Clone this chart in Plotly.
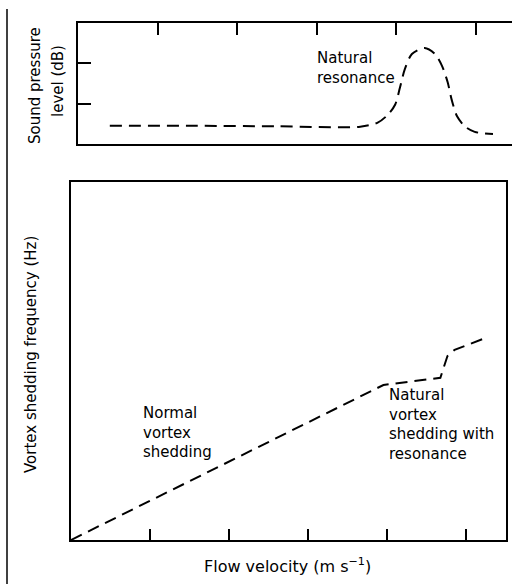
import plotly.graph_objects as go

# ---- data ----
spl_velocity = [0.40, 1.5, 2.5, 3.55, 3.77, 3.90, 3.99, 4.05, 4.11, 4.20, 4.36,
                4.49, 4.58, 4.65, 4.70, 4.77, 4.87, 4.99, 5.22]
spl_level = [0.45, 0.45, 0.44, 0.43, 0.53, 0.73, 0.98, 1.40, 1.85, 2.23, 2.38,
             2.23, 1.93, 1.53, 1.10, 0.68, 0.43, 0.30, 0.25]

freq_velocity = [0, 3.95, 4.67, 4.76, 4.85, 5.20]
freq_value = [0, 4.33, 4.53, 5.14, 5.31, 5.61]

x_ticks = [1, 2, 3, 4, 5]
spl_ticks = [1, 2]

# ---- layout geometry ----
W, H = 512, 584
L, R, T, B = 71, 0, 23, 44
PW, PH = W - L - R, H - T - B


def px(x):
    return (x - L) / PW


def py(y):
    return (H - B - y) / PH


FONT = "DejaVu Sans"
dash = "12px,7px"

fig = go.Figure()
fig.add_trace(go.Scatter(x=spl_velocity, y=spl_level, mode="lines",
                         line=dict(color="black", width=2, dash=dash, shape="spline", smoothing=0.8),
                         xaxis="x2", yaxis="y2", showlegend=False, hoverinfo="skip"))
fig.add_trace(go.Scatter(x=freq_velocity, y=freq_value, mode="lines",
                         line=dict(color="black", width=2, dash=dash),
                         xaxis="x", yaxis="y", showlegend=False, hoverinfo="skip"))

axis_common = dict(showgrid=False, zeroline=False, showline=True, linecolor="black",
                   linewidth=2, mirror=True, tickcolor="black", tickwidth=1.5)

fig.update_layout(
    width=W, height=H, autosize=False,
    margin=dict(l=L, r=R, t=T, b=B, pad=0),
    paper_bgcolor="white", plot_bgcolor="white",
    font=dict(family=FONT, color="black", size=15),
    xaxis=dict(domain=[0, px(506)], range=[0, 5.5], tickvals=x_ticks, ticks="inside",
               ticklen=11, showticklabels=False, anchor="y", **axis_common),
    yaxis=dict(domain=[0, py(182)], range=[0, 10], ticks="", showticklabels=False,
               anchor="x", **axis_common),
    xaxis2=dict(domain=[px(78), 1], range=[0, (W - 78) / 79.5], side="top",
                tickvals=x_ticks, ticks="inside", ticklen=12, showticklabels=False,
                anchor="y2", **axis_common),
    yaxis2=dict(domain=[py(144), py(23)], range=[0, 3], tickvals=spl_ticks, ticks="inside",
                ticklen=13, showticklabels=False, anchor="x2", showgrid=False, zeroline=False,
                showline=True, linecolor="black", linewidth=2, mirror=False,
                tickcolor="black", tickwidth=1.5),
    yaxis3=dict(overlaying="y2", side="right", anchor="x2", range=[0, 3], tickvals=spl_ticks,
                ticks="inside", ticklen=10, showticklabels=False, showline=False,
                showgrid=False, zeroline=False, tickcolor="black", tickwidth=1.5),
)

ann = []


def add_text(text, x, y, xanchor="center", yanchor="middle", angle=0, size=15, align="center"):
    ann.append(dict(text=text, x=px(x), y=py(y), xref="paper", yref="paper",
                    xanchor=xanchor, yanchor=yanchor, textangle=angle, showarrow=False,
                    align=align, font=dict(family=FONT, size=size, color="black")))


add_text("Sound pressure", 35, 86, angle=-90)
add_text("level (dB)", 58, 81, angle=-90)
add_text("Vortex shedding frequency (Hz)", 31, 355, angle=-90)
add_text("Flow velocity (m s<sup>−1</sup>)", 287, 565, size=16)
add_text("Natural<br>resonance", 315, 68, xanchor="left", align="left")
add_text("Normal<br>vortex<br>shedding", 141, 432, xanchor="left", align="left")
add_text("Natural<br>vortex<br>shedding with<br>resonance", 387, 424, xanchor="left", align="left")

fig.update_layout(annotations=ann)

# scanned page edge line on the left
fig.add_shape(type="line", xref="paper", yref="paper", x0=px(7), x1=px(7), y0=py(9), y1=py(584),
              line=dict(color="black", width=1.5))

fig.write_html("out.html", config={"displayModeBar": False},
               post_script="document.body.style.margin='0';")
